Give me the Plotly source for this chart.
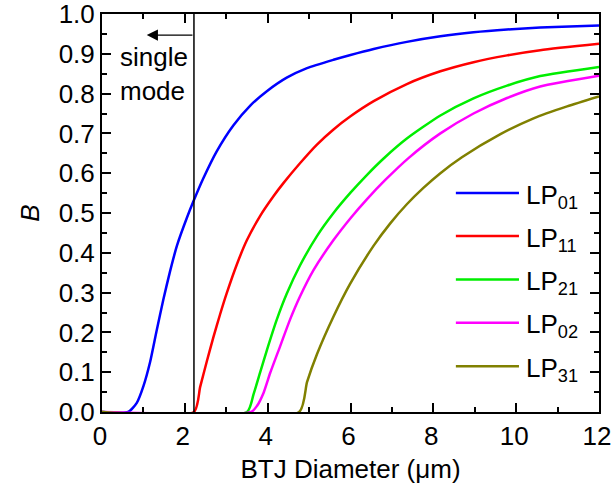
import plotly.graph_objects as go

# ---- data ----
lp01_x = [0, 0.63, 0.84, 1.0, 1.16, 1.32, 1.48, 1.64, 1.81, 2.05, 2.21, 2.45, 2.77, 3.17, 3.58, 3.98,
          4.46, 4.95, 5.59, 6.0, 6.56, 7.36, 8.17, 8.97, 9.78, 10.58, 12.0]
lp01_y = [0, 0, 0.023, 0.065, 0.125, 0.205, 0.282, 0.352, 0.418, 0.488, 0.53, 0.588, 0.655, 0.72, 0.77, 0.806,
          0.840, 0.864, 0.885, 0.897, 0.912, 0.930, 0.944, 0.954, 0.961, 0.966, 0.971]

lp11_x = [0, 2.22, 2.37, 2.53, 2.69, 2.85, 3.01, 3.26, 3.5, 3.82, 4.14, 4.38, 4.78, 5.19, 5.59, 6.0,
          6.56, 7.36, 8.17, 8.97, 9.78, 10.58, 12.0]
lp11_y = [0, 0, 0.063, 0.127, 0.188, 0.245, 0.298, 0.372, 0.432, 0.493, 0.542, 0.575, 0.625, 0.672, 0.71, 0.743,
          0.781, 0.824, 0.856, 0.879, 0.896, 0.909, 0.925]

lp21_x = [0, 3.5, 3.66, 3.82, 3.98, 4.22, 4.46, 4.78, 5.19, 5.59, 6.0, 6.4, 6.8, 7.36, 8.17, 8.97,
          9.78, 10.58, 12.0]
lp21_y = [0, 0, 0.045, 0.10, 0.155, 0.232, 0.297, 0.368, 0.442, 0.50, 0.551, 0.596, 0.637, 0.687, 0.745, 0.788,
          0.82, 0.844, 0.867]

lp02_x = [0, 3.6, 3.74, 3.9, 4.06, 4.3, 4.54, 4.78, 5.11, 5.59, 6.0, 6.4, 6.84, 7.4, 8.17, 8.97,
          9.78, 10.58, 12.0]
lp02_y = [0, 0, 0.015, 0.048, 0.098, 0.165, 0.232, 0.29, 0.357, 0.432, 0.487, 0.535, 0.583, 0.638, 0.70, 0.75,
          0.789, 0.818, 0.845]

lp31_x = [0, 4.76, 4.95, 5.19, 5.59, 5.99, 6.56, 6.96, 7.36, 7.76, 8.17, 8.69, 9.62, 10.42, 11.23, 12.0]
lp31_y = [0, 0, 0.075, 0.145, 0.24, 0.322, 0.418, 0.474, 0.522, 0.563, 0.60, 0.64, 0.698, 0.738, 0.768, 0.793]

series_names = ["01", "11", "21", "02", "31"]
series_colors = ["#0000ff", "#ff0000", "#00ee00", "#ff00ff", "#808000"]
series_x = [lp01_x, lp11_x, lp21_x, lp02_x, lp31_x]
series_y = [lp01_y, lp11_y, lp21_y, lp02_y, lp31_y]

x_ticks = [0, 2, 4, 6, 8, 10, 12]
y_ticks = [0.0, 0.1, 0.2, 0.3, 0.4, 0.5, 0.6, 0.7, 0.8, 0.9, 1.0]
y_tick_labels = ["0.0", "0.1", "0.2", "0.3", "0.4", "0.5", "0.6", "0.7", "0.8", "0.9", "1.0"]
y_minor_ticks = [0.05, 0.15, 0.25, 0.35, 0.45, 0.55, 0.65, 0.75, 0.85, 0.95]

single_mode_cutoff = 2.22
arrow_tip_x = 1.08
arrow_y = 0.947

FONT = "Arial, Liberation Sans, sans-serif"
fig = go.Figure()
for name, color, xs, ys in zip(series_names, series_colors, series_x, series_y):
    fig.add_trace(go.Scatter(x=xs, y=ys, mode="lines", name="LP<sub>%s</sub>" % name,
                             line=dict(color=color, width=2.5, shape="spline", smoothing=0.6),
                             showlegend=False))

# legend drawn manually to match spacing
leg_rows = [0.55, 0.442, 0.333, 0.224, 0.115]
for name, color, yy in zip(series_names, series_colors, leg_rows):
    fig.add_shape(type="line", xref="paper", yref="paper", x0=0.712, x1=0.839, y0=yy, y1=yy,
                  line=dict(color=color, width=2.5))
    fig.add_annotation(xref="paper", yref="paper", x=0.85, y=yy, xanchor="left", yanchor="middle",
                       text="LP<sub>%s</sub>" % name, showarrow=False,
                       font=dict(family=FONT, size=26, color="black"), yshift=-3)

fig.add_shape(type="line", xref="x", yref="y", x0=single_mode_cutoff, x1=single_mode_cutoff, y0=0, y1=1,
              line=dict(color="black", width=1.5))
fig.add_annotation(x=arrow_tip_x, y=arrow_y, ax=single_mode_cutoff, ay=arrow_y, axref="x", ayref="y",
                   xref="x", yref="y", text="", showarrow=True, arrowhead=2, arrowsize=1.6,
                   arrowwidth=1.4, arrowcolor="black")
fig.add_annotation(x=0.39, y=0.85, xref="x", yref="y", xanchor="left", yanchor="middle", align="left",
                   text="single<br>mode", showarrow=False, font=dict(family=FONT, size=26, color="black"))

axis_common = dict(showline=True, linewidth=2, linecolor="black", mirror="allticks", ticks="inside",
                   tickwidth=2, tickcolor="black", showgrid=False, zeroline=False, automargin=False,
                   tickfont=dict(family=FONT, size=26, color="black"))
fig.update_xaxes(range=[0, 12], tickmode="array", tickvals=x_ticks, ticktext=[str(v) for v in x_ticks],
                 ticklen=9, ticklabeloverflow="allow", ticklabelshift=-2,
                 minor=dict(ticks="inside", dtick=1, ticklen=5, tickwidth=1.5, tickcolor="black"),
                 title=dict(text="BTJ Diameter (μm)", font=dict(family=FONT, size=26, color="black"), standoff=10),
                 **axis_common)
fig.update_yaxes(range=[0, 1], tickmode="array", tickvals=y_ticks, ticktext=y_tick_labels, ticklen=9,
                 ticklabeloverflow="allow",
                 minor=dict(ticks="inside", tickmode="array", tickvals=y_minor_ticks,
                            ticklen=5, tickwidth=1.5, tickcolor="black"),
                 title=dict(text="<i>B</i>", font=dict(family=FONT, size=26, color="black"), standoff=12),
                 **axis_common)
fig.update_layout(width=612, height=493, margin=dict(l=102, r=13, t=14, b=81),
                  plot_bgcolor="white", paper_bgcolor="white", showlegend=False)
fig.write_html("out.html")
